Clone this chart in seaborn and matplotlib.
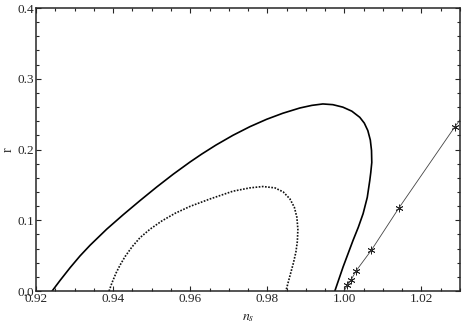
import matplotlib
matplotlib.use("Agg")
import matplotlib.pyplot as plt
import seaborn as sns
import pandas as pd
from matplotlib.ticker import MultipleLocator

# Outer (solid) contour
outer_ns = [0.92415, 0.92622, 0.92882, 0.93141, 0.93400, 0.93833, 0.94263, 0.94696,
            0.95129, 0.95560, 0.95993, 0.96296, 0.96667, 0.97108, 0.97548, 0.97981,
            0.98404, 0.98845, 0.99156, 0.99441, 0.99700, 0.99960, 1.00193, 1.00400,
            1.00517, 1.00608, 1.00673, 1.00704, 1.00711, 1.00685, 1.00659, 1.00594,
            1.00486, 1.00361, 1.00226, 0.99967, 0.99752]
outer_r = [0.0, 0.0150, 0.0330, 0.0497, 0.0647, 0.0875, 0.1080, 0.1278,
           0.1470, 0.1652, 0.1823, 0.1935, 0.2063, 0.2201, 0.2323, 0.2427,
           0.2513, 0.2587, 0.2624, 0.2644, 0.2634, 0.2599, 0.2542, 0.2455,
           0.2373, 0.2268, 0.2134, 0.1986, 0.1817, 0.1676, 0.1563, 0.1324,
           0.1094, 0.0901, 0.0718, 0.0342, 0.0]

# Inner (dotted) contour
inner_ns = [0.93893, 0.93970, 0.94074, 0.94178, 0.94307, 0.94489, 0.94696, 0.94956,
            0.95267, 0.95604, 0.95993, 0.96511, 0.97108, 0.97548, 0.97885, 0.98196,
            0.98412, 0.98585, 0.98702, 0.98767, 0.98793, 0.98780, 0.98741, 0.98676,
            0.98585, 0.98482]
inner_r = [0.0, 0.0118, 0.0254, 0.0366, 0.0486, 0.0624, 0.0754, 0.0874,
           0.0992, 0.1098, 0.1196, 0.1301, 0.1411, 0.1458, 0.1477, 0.1458,
           0.1401, 0.1303, 0.1183, 0.1042, 0.0873, 0.0704, 0.0549, 0.0394,
           0.0211, 0.0]

# Line with asterisk markers
line_ns = [0.9999, 1.0008, 1.0017, 1.0031, 1.0070, 1.0141, 1.0287, 1.0305]
line_r = [0.0, 0.0085, 0.0155, 0.029, 0.0577, 0.117, 0.2324, 0.2455]
star_ns = [1.0008, 1.0017, 1.0031, 1.0070, 1.0141, 1.0287]
star_r = [0.0085, 0.0155, 0.029, 0.0577, 0.117, 0.2324]

xticks = [0.92, 0.94, 0.96, 0.98, 1.00, 1.02]
xticklabels = ["0.92", "0.94", "0.96", "0.98", "1.00", "1.02"]
yticks = [0.0, 0.1, 0.2, 0.3, 0.4]
yticklabels = ["0.0", "0.1", "0.2", "0.3", "0.4"]

sns.set_style("ticks")
plt.rcParams["font.family"] = ["Liberation Serif", "DejaVu Serif"]
plt.rcParams["mathtext.fontset"] = "stix"

fig = plt.figure(figsize=(4.63, 3.27), dpi=100)
ax = fig.add_axes([0.078, 0.110, 0.9155, 0.8655])

df_outer = pd.DataFrame({"ns": outer_ns, "r": outer_r})
df_inner = pd.DataFrame({"ns": inner_ns, "r": inner_r})
df_line = pd.DataFrame({"ns": line_ns, "r": line_r})
df_star = pd.DataFrame({"ns": star_ns, "r": star_r})

sns.lineplot(data=df_outer, x="ns", y="r", sort=False, estimator=None, ax=ax,
             color="black", linewidth=1.2)
sns.lineplot(data=df_inner, x="ns", y="r", sort=False, estimator=None, ax=ax,
             color="#111111", linewidth=1.2, linestyle=(0, (1, 0.9)))
sns.lineplot(data=df_line, x="ns", y="r", sort=False, estimator=None, ax=ax,
             color="#444444", linewidth=0.6)
sns.scatterplot(data=df_star, x="ns", y="r", ax=ax, marker=(6, 2, 0), s=26,
                color="#222222", linewidth=0.6)

ax.set_xlim(0.92, 1.03)
ax.set_ylim(0.0, 0.4)
ax.set_xticks(xticks)
ax.set_xticklabels(xticklabels)
ax.set_yticks(yticks)
ax.set_yticklabels(yticklabels)
ax.xaxis.set_minor_locator(MultipleLocator(0.005))
ax.yaxis.set_minor_locator(MultipleLocator(0.02))
ax.tick_params(which="both", direction="in", top=True, right=True,
               labelsize=9.5, width=0.8, pad=1.5)
ax.tick_params(which="major", length=3.5)
ax.tick_params(which="minor", length=2)
for sp in ax.spines.values():
    sp.set_linewidth(1.1)

ax.set_xlabel(r"$n_s$", fontsize=10, labelpad=4)
ax.set_ylabel("r", fontsize=10, labelpad=2)

fig.savefig("out.png", dpi=100)
